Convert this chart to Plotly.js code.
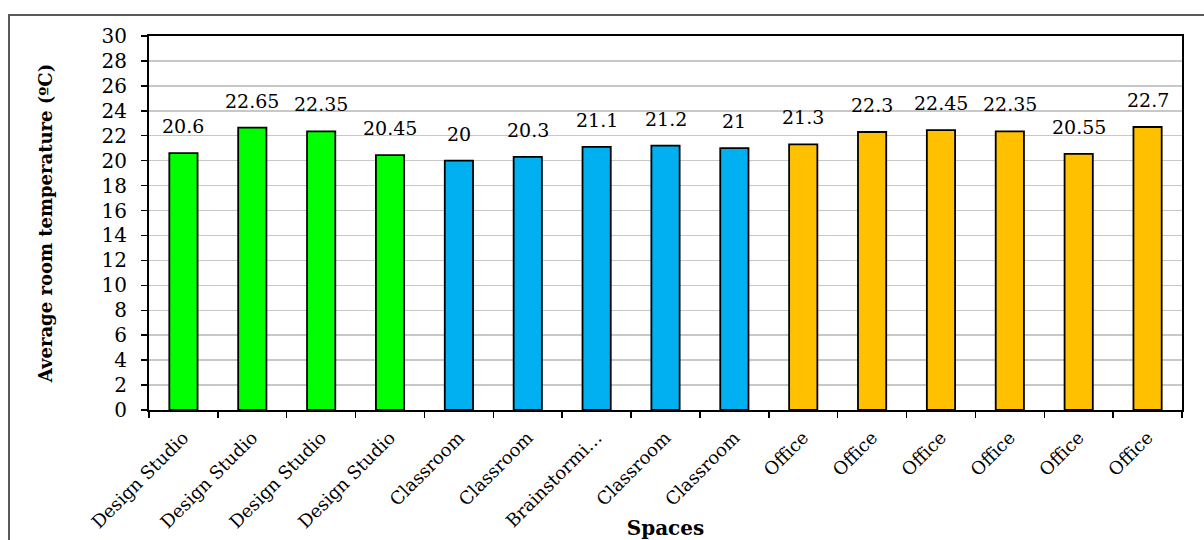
<!DOCTYPE html>
<html>
<head>
<meta charset="utf-8">
<script src="https://cdn.plot.ly/plotly-3.0.1.min.js"></script>
<style>
  html, body { margin: 0; padding: 0; background: #fff; overflow: hidden; }
  #frame { position: absolute; left: 8px; top: 14px; width: 1400px; height: 700px; border: 2px solid #595959; box-sizing: border-box; }
  #chart { position: absolute; left: 0; top: 0; width: 1204px; height: 540px; }
</style>
</head>
<body>
<div id="frame"></div>
<div id="chart"></div>
<script>
const spaces = ["Design Studio","Design Studio","Design Studio","Design Studio","Classroom","Classroom","Brainstormi…","Classroom","Classroom","Office","Office","Office","Office","Office","Office"];
const temperatures = [20.6, 22.65, 22.35, 20.45, 20, 20.3, 21.1, 21.2, 21, 21.3, 22.3, 22.45, 22.35, 20.55, 22.7];
const groups = ["studio","studio","studio","studio","class","class","class","class","class","office","office","office","office","office","office"];
const yTicks = [0,2,4,6,8,10,12,14,16,18,20,22,24,26,28,30];

const groupColors = { studio: "#00FF00", class: "#00B0F0", office: "#FFC000" };
const FONT = "'DejaVu Serif', serif";

const ids = spaces.map((s, i) => "c" + i);

const trace = {
  type: "bar",
  x: ids,
  y: temperatures,
  width: 0.41,
  marker: { color: groups.map(g => groupColors[g]), line: { color: "#000", width: 1.8 } },
  hoverinfo: "skip"
};

const annotations = temperatures.map((v, i) => ({
  x: ids[i], y: v, xref: "x", yref: "y",
  text: String(v), showarrow: false, yanchor: "middle", yshift: 27,
  font: { family: FONT, size: 19, color: "#000" }
}));

const layout = {
  width: 1204, height: 540,
  margin: { l: 149, r: 22, t: 36, b: 130 },
  paper_bgcolor: "rgba(0,0,0,0)",
  plot_bgcolor: "#fff",
  showlegend: false,
  bargap: 0.59,
  font: { family: FONT, color: "#000" },
  xaxis: {
    type: "category",
    tickmode: "array", tickvals: ids, ticktext: spaces,
    tickson: "boundaries",
    ticks: "outside", ticklen: 6, tickwidth: 1.5, tickcolor: "#000",
    tickangle: -45,
    ticklabelstandoff: 8,
    tickfont: { family: FONT, size: 18, color: "#000" },
    showline: true, linecolor: "#000", linewidth: 2, mirror: true,
    showgrid: false, zeroline: false,
    title: { text: "<b>Spaces</b>", font: { family: FONT, size: 20, color: "#000" }, standoff: 0 }
  },
  yaxis: {
    range: [0, 30],
    tickmode: "array", tickvals: yTicks,
    ticks: "outside", ticklen: 6, tickwidth: 1.5, tickcolor: "#000",
    ticklabelstandoff: 10,
    tickfont: { family: FONT, size: 20, color: "#000" },
    showline: true, linecolor: "#000", linewidth: 2, mirror: true,
    showgrid: true, gridcolor: "#c8c8c8", gridwidth: 1.5,
    zeroline: false,
    title: { text: "<b>Average room temperature (ºC)</b>", font: { family: FONT, size: 18, color: "#000" }, standoff: 44 }
  },
  annotations: annotations
};

Plotly.newPlot("chart", [trace], layout, { displayModeBar: false, staticPlot: true });
</script>
</body>
</html>
